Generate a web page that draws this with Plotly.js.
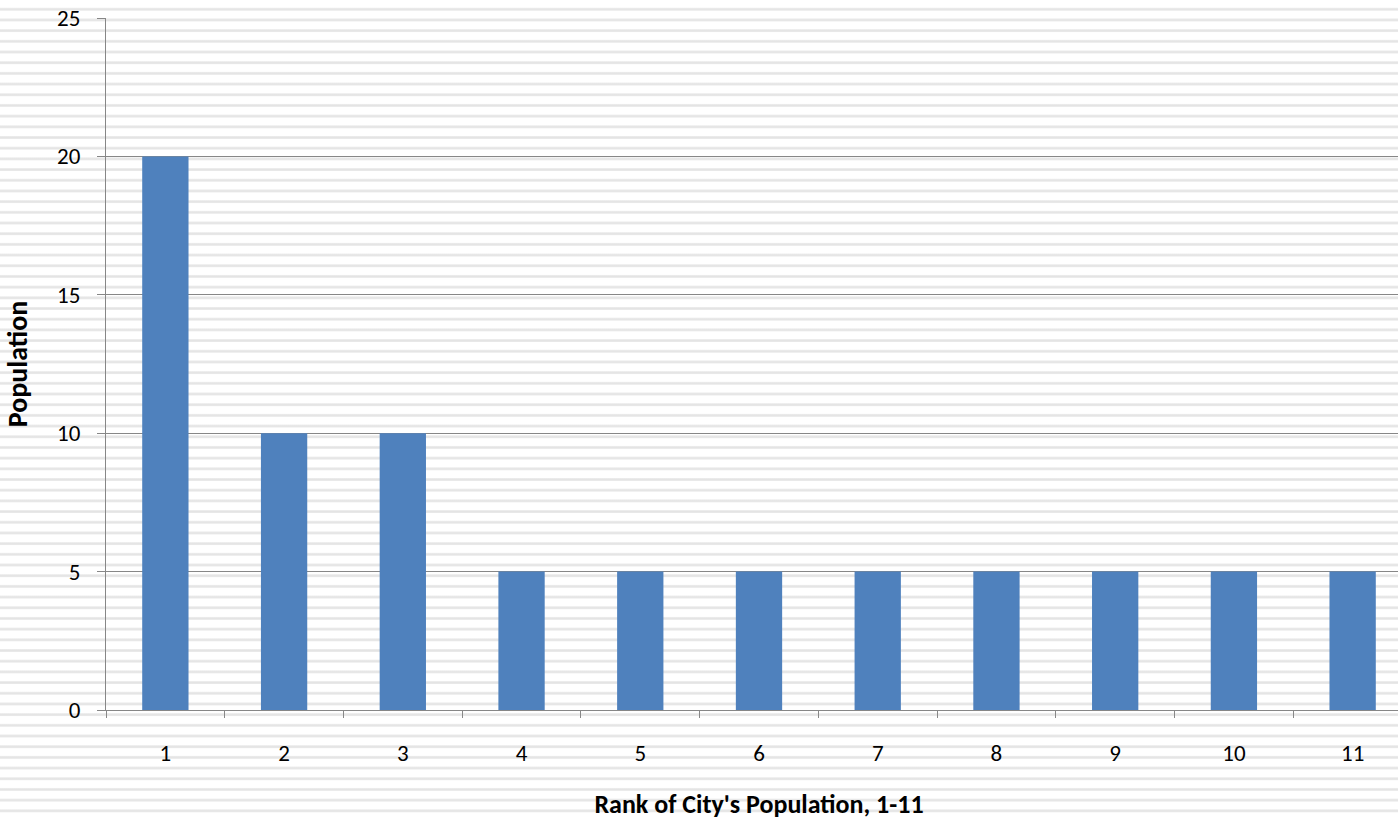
<!DOCTYPE html>
<html>
<head>
<meta charset="utf-8">
<script src="https://cdn.plot.ly/plotly-3.0.1.min.js"></script>
<style>
  html, body {
    margin: 0;
    padding: 0;
    width: 1398px;
    height: 820px;
    overflow: hidden;
    background-color: #ffffff;
    /* faint horizontal ruled background */
    background-image: repeating-linear-gradient(
      to bottom,
      rgba(255,255,255,0) 0px,
      rgba(255,255,255,0) 8.2px,
      #ebebeb 8.2px,
      #e3e3e3 9.4px,
      #ebebeb 10.7px
    );
    background-size: 100% 10.7px;
  }
  #chart { width: 1420px; height: 820px; }
</style>
</head>
<body>
<div id="chart"></div>
<script>
// City rank and population
const ranks = ['1', '2', '3', '4', '5', '6', '7', '8', '9', '10', '11'];
const population = [20, 10, 10, 5, 5, 5, 5, 5, 5, 5, 5];

const yTicks = [0, 5, 10, 15, 20, 25];

const fontFamily = 'Carlito, Calibri, "Open Sans", sans-serif';
const gridGrey = '#878787';

const trace = {
  type: 'bar',
  x: ranks,
  y: population,
  marker: { color: '#4F81BD', line: { width: 0 } },
  hoverinfo: 'x+y'
};

const layout = {
  width: 1420,
  height: 820,
  margin: { l: 106, r: 8, t: 18, b: 110 },
  paper_bgcolor: 'rgba(0,0,0,0)',
  plot_bgcolor: 'rgba(0,0,0,0)',
  bargap: 0.61,
  showlegend: false,
  font: { family: fontFamily, color: '#000000', size: 23 },
  xaxis: {
    type: 'category',
    showline: true,
    linecolor: gridGrey,
    linewidth: 1,
    ticks: 'outside',
    tickson: 'boundaries',
    ticklen: 7,
    tickcolor: gridGrey,
    showgrid: false,
    ticklabelstandoff: 22,
    title: {
      text: "<b>Rank of City's Population, 1-11</b>",
      font: { family: fontFamily, size: 26, color: '#000000' },
      standoff: 30
    }
  },
  yaxis: {
    range: [0, 25],
    tickvals: yTicks,
    ticktext: yTicks.map(String),
    showline: true,
    linecolor: gridGrey,
    linewidth: 1,
    ticks: 'outside',
    ticklen: 8,
    tickcolor: gridGrey,
    showgrid: true,
    gridcolor: gridGrey,
    gridwidth: 1,
    zeroline: false,
    ticklabelstandoff: 12,
    title: {
      text: '<b>Population</b>',
      font: { family: fontFamily, size: 28, color: '#000000' },
      standoff: 24
    }
  }
};

Plotly.newPlot('chart', [trace], layout, { displayModeBar: false, staticPlot: true });
</script>
</body>
</html>
